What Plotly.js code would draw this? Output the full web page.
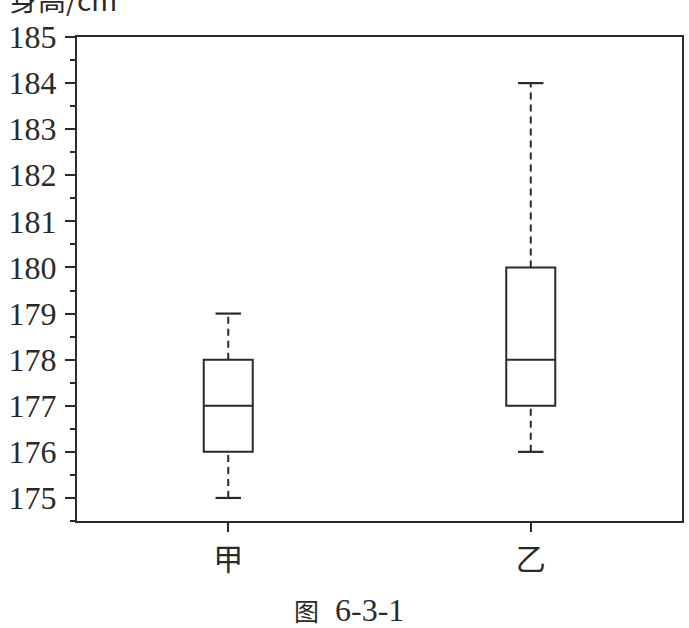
<!DOCTYPE html>
<html>
<head>
<meta charset="utf-8">
<script src="https://cdn.plot.ly/plotly-3.0.1.min.js"></script>
<style>html,body{margin:0;padding:0;background:#fff;}#chart{width:689px;height:628px;}</style>
</head>
<body>
<div id="chart"></div>
<script>
const categories = ['甲', '乙'];
const minVals = [175, 176];
const q1Vals = [176, 177];
const medianVals = [177, 178];
const q3Vals = [178, 180];
const maxVals = [179, 184];
const yTicks = [175, 176, 177, 178, 179, 180, 181, 182, 183, 184, 185];

const ink = '#2a2a2a';
const pos = categories.map((c, i) => i);

const traces = [];
traces.push({
  type: 'box',
  x: pos,
  q1: q1Vals,
  median: medianVals,
  q3: q3Vals,
  lowerfence: q1Vals,
  upperfence: q3Vals,
  width: 0.162,
  whiskerwidth: 0,
  fillcolor: 'rgba(0,0,0,0)',
  line: {color: ink, width: 2},
  hoverinfo: 'skip',
  showlegend: false
});

const wx = [], wy = [], cx = [], cy = [];
const capHalf = 0.042;
pos.forEach((p, i) => {
  wx.push(p, p, null, p, p, null);
  wy.push(minVals[i], q1Vals[i], null, q3Vals[i], maxVals[i], null);
  cx.push(p - capHalf, p + capHalf, null, p - capHalf, p + capHalf, null);
  cy.push(minVals[i], minVals[i], null, maxVals[i], maxVals[i], null);
});
traces.push({type: 'scatter', mode: 'lines', x: wx, y: wy,
  line: {color: ink, width: 2, dash: '7px,5px'}, hoverinfo: 'skip', showlegend: false});
traces.push({type: 'scatter', mode: 'lines', x: cx, y: cy,
  line: {color: ink, width: 2.2}, hoverinfo: 'skip', showlegend: false});

const layout = {
  width: 689, height: 628,
  margin: {l: 77, r: 7, t: 37, b: 107},
  paper_bgcolor: '#fff', plot_bgcolor: '#fff',
  showlegend: false,
  xaxis: {
    range: [-0.5, 1.5],
    tickvals: pos, ticktext: categories,
    ticks: 'outside', ticklen: 9, tickwidth: 2, tickcolor: ink,
    showline: true, mirror: true, linecolor: ink, linewidth: 2,
    showgrid: false, zeroline: false,
    tickfont: {family: 'Noto Sans CJK SC', size: 30, color: ink},
    ticklabelstandoff: 2
  },
  yaxis: {
    range: [174.5, 185],
    tickvals: yTicks,
    ticks: 'outside', ticklen: 10, tickwidth: 2, tickcolor: ink,
    minor: {dtick: 0.5, tick0: 174.5, ticks: 'outside', ticklen: 5, tickwidth: 2, tickcolor: ink, showgrid: false},
    showline: true, mirror: true, linecolor: ink, linewidth: 2,
    showgrid: false, zeroline: false,
    tickfont: {family: 'Liberation Serif', size: 32, color: ink},
    ticklabelstandoff: 2
  },
  annotations: [
    {text: '身高/cm', xref: 'paper', yref: 'paper', x: 0, y: 1, xanchor: 'left', yanchor: 'bottom',
     xshift: -69, yshift: 16, showarrow: false,
     font: {family: 'Noto Sans CJK SC', size: 28, color: ink}},
    {text: '<span style="font-size:25px">图</span>  6-3-1', xref: 'paper', yref: 'paper', x: 0.449, y: 0, xanchor: 'center', yanchor: 'middle',
     yshift: -89, showarrow: false,
     font: {family: 'Liberation Serif, Noto Sans CJK SC', size: 32, color: ink}}
  ]
};

Plotly.newPlot('chart', traces, layout, {staticPlot: true, displayModeBar: false});
</script>
</body>
</html>
